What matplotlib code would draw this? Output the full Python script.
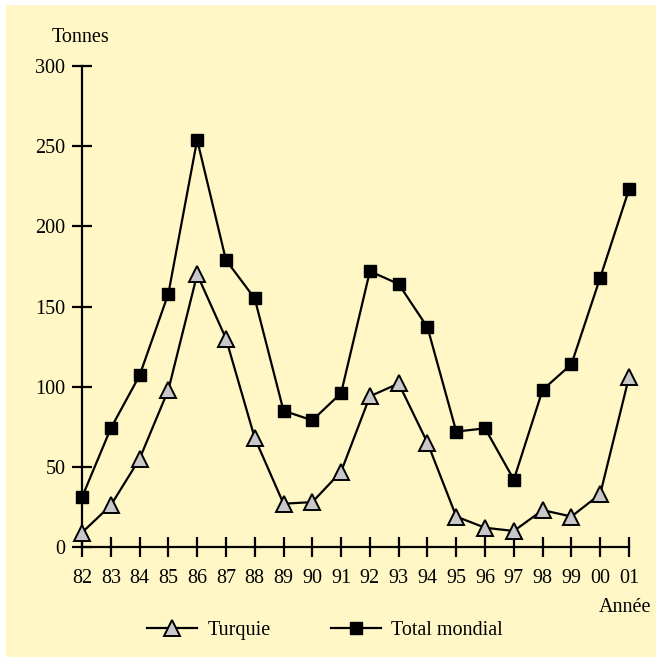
import matplotlib
matplotlib.use("Agg")
import matplotlib.pyplot as plt
from matplotlib.patches import Rectangle
import numpy as np

years = ["82", "83", "84", "85", "86", "87", "88", "89", "90", "91",
         "92", "93", "94", "95", "96", "97", "98", "99", "00", "01"]
turquie = [9, 26, 55, 98, 170, 130, 68, 27, 28, 47,
           94, 102, 65, 19, 12, 10, 23, 19, 33, 106]
total_mondial = [31, 74, 107, 158, 254, 179, 155, 85, 79, 96,
                 172, 164, 137, 72, 74, 42, 98, 114, 168, 223]

plt.rcParams["font.family"] = ["Liberation Serif", "DejaVu Serif"]
BG = "#FFF8C6"
FS = 14.5

W, H = 656, 657
fig = plt.figure(figsize=(W / 100, H / 100), dpi=100, facecolor="white")
fig.patches.append(Rectangle((6 / W, 0), 1 - 6 / W, 1 - 5 / H, transform=fig.transFigure,
                             facecolor=BG, edgecolor="none", zorder=-10))

# axes: x from px 82 to 629, y from px 547 (0) to 66 (300)
ax = fig.add_axes([82 / W, 1 - 547 / H, (629 - 82) / W, (547 - 66) / H])
ax.set_facecolor("none")

x = np.arange(len(years))
ax.plot(x, turquie, color="black", lw=1.6, marker="^", ms=11, mfc="#C8C8C8",
        mec="black", mew=1.4, clip_on=False, zorder=3, label="Turquie")
ax.plot(x, total_mondial, color="black", lw=1.6, marker="s", ms=9, mfc="black",
        mec="black", clip_on=False, zorder=4, label="Total mondial")

ax.set_xlim(0, len(years) - 1)
ax.set_ylim(0, 300)
ax.set_xticks(x)
ax.set_xticklabels(years)
ax.set_yticks(np.arange(0, 301, 50))
for s in ["top", "right"]:
    ax.spines[s].set_visible(False)
for s in ["left", "bottom"]:
    ax.spines[s].set_linewidth(1.6)
ax.tick_params(direction="inout", length=14, width=1.6, labelsize=FS)
ax.tick_params(axis="x", pad=9)
ax.tick_params(axis="y", pad=5)

fig.text(52 / W, 1 - 38 / H, "Tonnes", fontsize=FS, va="center", ha="left")
fig.text(651 / W, 1 - 607 / H, "Année", fontsize=FS, va="center", ha="right")

fig.legend(loc="center", bbox_to_anchor=(325 / W, 1 - 630 / H), ncol=2,
           frameon=False, fontsize=FS, handlelength=2.5, columnspacing=3.0,
           handletextpad=0.5)

fig.savefig("out.png", dpi=100, facecolor="white")
